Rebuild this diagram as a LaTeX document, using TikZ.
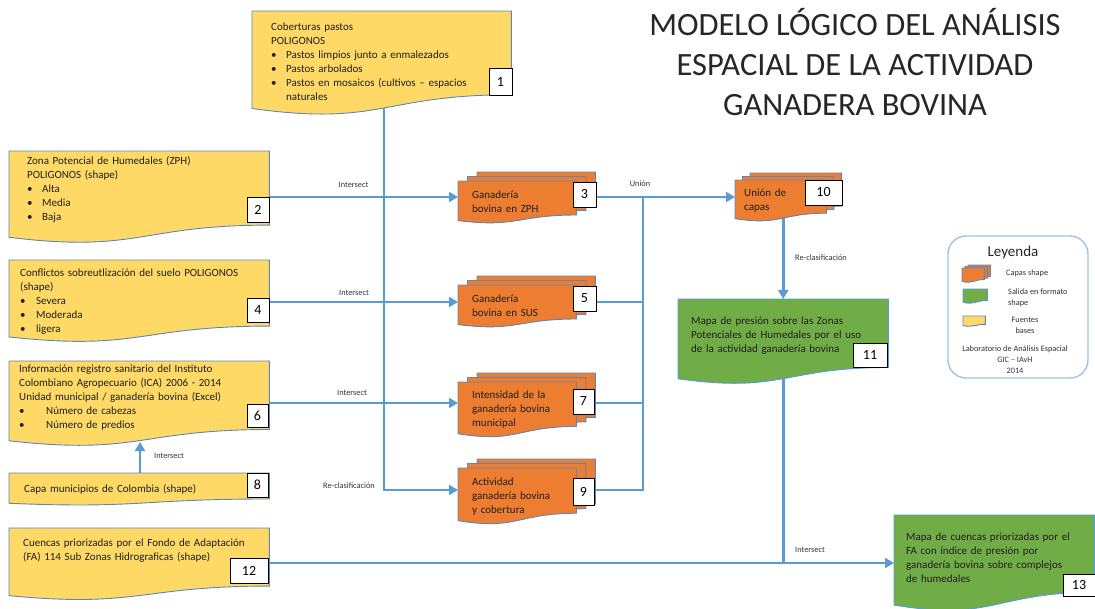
\documentclass[tikz,border=0pt]{standalone}
\usepackage{fontspec}
\setmainfont{Carlito}
\usetikzlibrary{calc,arrows.meta}
\pgfdeclarelayer{edgelayer}
\pgfdeclarelayer{shapelayer}
\pgfdeclarelayer{nodelayer}
\pgfsetlayers{edgelayer,shapelayer,nodelayer,main}
\definecolor{azul}{HTML}{5B9BD5}
\definecolor{borde}{HTML}{5F86B8}
\definecolor{amarillo}{HTML}{FFD966}
\definecolor{naranja}{HTML}{ED7D31}
\definecolor{verde}{HTML}{70AD47}
\definecolor{celeste}{HTML}{9DC3E6}
\tikzset{font=\fontsize{11}{14}\selectfont}
\tikzstyle{none}=[inner sep=0pt]
\tikzstyle{caja}=[anchor=north west,align=left,inner ysep=0pt,text=black!88]
\tikzstyle{num}=[draw=black,fill=white,line width=1pt,inner sep=0pt,font=\fontsize{14}{16}\selectfont]
\tikzstyle{etiq}=[inner sep=0pt,font=\fontsize{8.3}{11}\selectfont,text=black!80]
\tikzstyle{linea}=[draw=azul,line width=2.6pt]
\tikzstyle{flecha}=[linea,-{Triangle[length=9pt,width=10pt]}]
\tikzstyle{fuente}=[fill=amarillo,draw=borde,line width=0.9pt]
\tikzstyle{capa}=[fill=naranja,draw=borde,line width=0.9pt]
\tikzstyle{salida}=[fill=verde,draw=azul,line width=0.9pt]
\tikzstyle{leyenda}=[draw=celeste,line width=1.4pt,rounded corners=18pt]

% hoja con el borde inferior ondulado sobre el nodo #2, desplazada #1
\newcommand{\contorno}[3][0,0]{%
  \path[#3] let \p1=([shift={(#1)}]#2.north west), \p2=([shift={(#1)}]#2.south east) in
    (\x1,\y1) -- (\x2,\y1) -- (\x2,{\y1+0.802*(\y2-\y1)})
    .. controls ({(\x1+\x2)/2},{\y1+0.802*(\y2-\y1)}) and ({(\x1+\x2)/2},{\y1+1.107*(\y2-\y1)})
    .. (\x1,{\y1+0.934*(\y2-\y1)}) -- cycle;}
% tres hojas apiladas
\newcommand{\pila}[3]{%
  \contorno[{2*#2},{-2*#3}]{#1}{capa}
  \contorno[{#2},{-#3}]{#1}{capa}
  \contorno{#1}{capa}}
\newcommand{\itm}[1][15pt]{\makebox[#1][l]{\textbullet}}

\begin{document}
\begin{tikzpicture}[x=1pt,y=-1pt]
	\useasboundingbox (0,0) rectangle (1095,608);
	\begin{pgfonlayer}{nodelayer}
		\node [align=center,font=\fontsize{32.5}{40}\selectfont,text=black!85] (titulo) at (855,62) {MODELO LÓGICO DEL ANÁLISIS\\ESPACIAL DE LA ACTIVIDAD\\GANADERA BOVINA};
		% fuentes
		\node [style=caja,text width=221pt,inner xsep=19pt,minimum height=104pt,text depth=73pt] (1) at (252,11) {Coberturas pastos\\POLIGONOS\\\itm Pastos limpios junto a enmalezados\\\itm Pastos arbolados\\\itm Pastos en mosaicos (cultivos -- espacios\\\hspace*{15pt}naturales};
		\node [style=caja,text width=224pt,inner xsep=18pt,minimum height=92pt,text depth=73pt] (2) at (9,151) {Zona Potencial de Humedales (ZPH)\\POLIGONOS (shape)\\\itm Alta\\\itm Media\\\itm Baja};
		\node [style=caja,text width=238pt,inner xsep=11pt,minimum height=82pt] (4) at (9,260) {Conflictos sobreutlización del suelo POLIGONOS\\(shape)\\\itm[16pt]Severa\\\itm[16pt]Moderada\\\itm[16pt]ligera};
		\node [style=caja,text width=240pt,inner xsep=10pt,minimum height=85pt,text depth=70pt] (6) at (9,361) {Información registro sanitario del Instituto\\Colombiano Agropecuario (ICA) 2006 - 2014\\Unidad municipal / ganadería bovina (Excel)\\\itm[27pt]Número de cabezas\\\itm[27pt]Número de predios};
		\node [style=caja,text width=230pt,inner xsep=15pt,minimum height=32pt] (8) at (9,473) {Capa municipios de Colombia (shape)};
		\node [style=caja,text width=232pt,inner xsep=14pt,minimum height=72pt,text depth=43pt] (12) at (9,528) {Cuencas priorizadas por el Fondo de Adaptación\\(FA) 114 Sub Zonas Hidrograficas (shape)};
		% capas intermedias
		\node [style=caja,text width=90pt,inner xsep=14pt,minimum height=42pt] (3) at (458,181) {Ganadería\\bovina en ZPH};
		\node [style=caja,text width=90pt,inner xsep=14pt,minimum height=42pt] (5) at (458,285) {Ganadería\\bovina en SUS};
		\node [style=caja,text width=90pt,inner xsep=14pt,minimum height=55pt] (7) at (458,382) {Intensidad de la\\ganadería bovina\\municipal};
		\node [style=caja,text width=90pt,inner xsep=14pt,minimum height=56pt] (9) at (458,468) {Actividad\\ganadería bovina\\y cobertura};
		\node [style=caja,text width=73pt,inner xsep=9pt,minimum height=41pt] (10) at (735,180) {Unión de\\capas};
		% salidas
		\node [style=caja,text width=184pt,inner xsep=13pt,minimum height=85pt,text depth=42pt] (11) at (678,299) {Mapa de presión sobre las Zonas\\Potenciales de Humedales por el uso\\de la actividad ganadería bovina};
		\node [style=caja,text width=176pt,inner xsep=12pt,minimum height=96pt,text depth=53pt] (13) at (894,515) {Mapa de cuencas priorizadas por el\\FA con índice de presión por\\ganadería bovina sobre complejos\\de humedales};
		% numeros
		\node [style=num,minimum width=23pt,minimum height=27pt] (n1) at (500.5,81.5) {1};
		\node [style=num,minimum width=22pt,minimum height=25pt] (n2) at (258,209.5) {2};
		\node [style=num,minimum width=23pt,minimum height=25pt] (n3) at (584.5,194.5) {3};
		\node [style=num,minimum width=22pt,minimum height=24pt] (n4) at (258,310) {4};
		\node [style=num,minimum width=23pt,minimum height=25pt] (n5) at (584.5,298.5) {5};
		\node [style=num,minimum width=21pt,minimum height=23pt] (n6) at (257.5,415.5) {6};
		\node [style=num,minimum width=21pt,minimum height=25pt] (n7) at (583.5,401.5) {7};
		\node [style=num,minimum width=21pt,minimum height=24pt] (n8) at (257.5,485) {8};
		\node [style=num,minimum width=21pt,minimum height=27pt] (n9) at (583.5,491.5) {9};
		\node [style=num,minimum width=37pt,minimum height=25pt] (n10) at (823.5,192.5) {10};
		\node [style=num,minimum width=34pt,minimum height=24pt] (n11) at (870,355) {11};
		\node [style=num,minimum width=38pt,minimum height=25pt] (n12) at (249,570.5) {12};
		\node [style=num,minimum width=32pt,minimum height=22pt] (n13) at (1079,585) {13};
		% etiquetas de las operaciones
		\node [style=etiq] (e1) at (353.5,185) {Intersect};
		\node [style=etiq] (e2) at (354,293) {Intersect};
		\node [style=etiq] (e3) at (352,393) {Intersect};
		\node [style=etiq] (e4) at (349,486) {Re-clasificación};
		\node [style=etiq] (e5) at (640,184) {Unión};
		\node [style=etiq] (e6) at (821,258) {Re-clasificación};
		\node [style=etiq] (e7) at (810,550) {Intersect};
		\node [style=etiq] (e8) at (169,456) {Intersect};
		% leyenda
		\node [style=leyenda,minimum width=140pt,minimum height=142pt] (ley) at (1018,307) {};
		\node [font=\fontsize{15}{18}\selectfont,text=black!85] (leyt) at (1013,252) {Leyenda};
		\node [style=none,anchor=north west,minimum width=22pt,minimum height=14pt] (ic1) at (962,268) {};
		\node [style=none,anchor=north west,minimum width=24pt,minimum height=14pt] (ic2) at (963,289) {};
		\node [style=none,anchor=north west,minimum width=22pt,minimum height=10pt] (ic3) at (963,316) {};
		\node [style=etiq,anchor=west] (l1) at (1006,273) {Capas shape};
		\node [style=etiq,anchor=west,align=left] (l2) at (1008,297.5) {Salida en formato\\shape};
		\node [style=etiq,align=center] (l3) at (1025,325.5) {Fuentes\\bases};
		\node [style=etiq,align=center] (l4) at (1015,360) {Laboratorio de Análisis Espacial\\GIC -- IAvH\\2014};
		% puntos de paso
		\node [style=none] (t0) at (384,100) {};
		\node [style=none] (t1) at (384,490) {};
		\node [style=none] (a2) at (269,197) {};
		\node [style=none] (a4) at (269,302) {};
		\node [style=none] (a6) at (269,403) {};
		\node [style=none] (p8) at (140,442) {};
		\node [style=none] (a12) at (268,563) {};
		\node [style=none] (b3) at (596,197) {};
		\node [style=none] (b5) at (596,302) {};
		\node [style=none] (b7) at (594,403) {};
		\node [style=none] (b9) at (594,490) {};
		\node [style=none] (c3) at (643,197) {};
		\node [style=none] (c9) at (643,490) {};
	\end{pgfonlayer}
	\begin{pgfonlayer}{shapelayer}
		\contorno{1}{fuente}
		\contorno{2}{fuente}
		\contorno{4}{fuente}
		\contorno{6}{fuente}
		\contorno{8}{fuente}
		\contorno{12}{fuente}
		\pila{3}{9.5}{4.5}
		\pila{5}{9.5}{4.5}
		\pila{7}{9.5}{4.5}
		\pila{9}{9.5}{4.5}
		\pila{10}{7.5}{3.5}
		\contorno{11}{salida}
		\contorno{13}{salida}
		\pila{ic1}{3}{1.5}
		\contorno{ic2}{salida}
		\contorno{ic3}{fuente}
	\end{pgfonlayer}
	\begin{pgfonlayer}{edgelayer}
		\draw [style=flecha] (t0.center) to (t1.center) to (t1.center -| 9.west);
		\draw [style=flecha] (a2.center) to (a2.center -| 3.west);
		\draw [style=flecha] (a4.center) to (a4.center -| 5.west);
		\draw [style=flecha] (a6.center) to (a6.center -| 7.west);
		\draw [style=flecha] (p8.center |- 8.north) to (p8.center);
		\draw [style=flecha] (b3.center) to (b3.center -| 10.west);
		\draw [style=linea] (b9.center) to (c9.center) to (c3.center);
		\draw [style=linea] (b5.center) to (b5.center -| c3.center);
		\draw [style=linea] (b7.center) to (b7.center -| c3.center);
		\draw [style=flecha] (11.north |- 10.center) to (11.north);
		\draw [style=linea] (11.center) to (11.center |- a12.center);
		\draw [style=flecha] (a12.center) to (a12.center -| 13.west);
	\end{pgfonlayer}
\end{tikzpicture}
\end{document}
